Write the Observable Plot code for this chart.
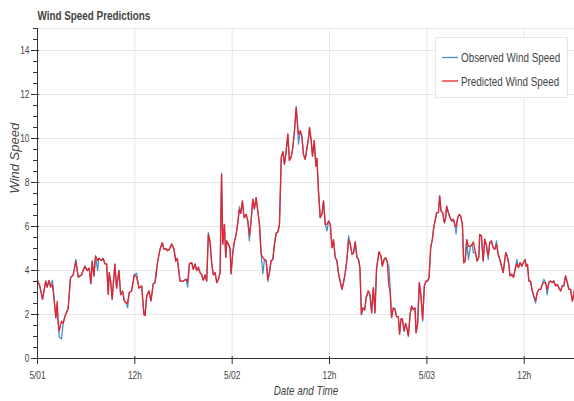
<!DOCTYPE html>
<html>
<head>
<meta charset="utf-8">
<script src="https://cdn.jsdelivr.net/npm/d3@7"></script>
<script src="https://cdn.jsdelivr.net/npm/@observablehq/plot@0.6"></script>
<style>
  html, body { margin: 0; padding: 0; background: #fff; }
  #wrap { position: relative; width: 574px; height: 401px; overflow: hidden; }
  #overlay { position: absolute; left: 0; top: 0; }
</style>
</head>
<body>
<div id="wrap">
  <div id="chart"></div>
  <svg id="overlay" width="574" height="120"></svg>
</div>
<script>
const title = "Wind Speed Predictions";
const xLabel = "Date and Time";
const yLabel = "Wind Speed";
const seriesNames = ["Observed Wind Speed", "Predicted Wind Speed"];
const xTicks = [0, 12, 24, 36, 48, 60];
const xTickLabels = ["5/01", "12h", "5/02", "12h", "5/03", "12h"];
const yTicks = [0, 2, 4, 6, 8, 10, 12, 14];

// hours since 5/01 00:00
const hours = [
0.00,0.28,0.62,1.02,1.19,1.43,1.60,1.85,2.01,2.26,
2.42,2.54,2.67,2.96,3.16,3.37,3.78,4.07,4.40,4.73,
5.01,5.43,5.84,6.12,6.37,6.58,6.74,6.95,7.16,7.41,
7.57,7.90,8.10,8.31,8.52,8.72,8.84,9.05,9.21,9.54,
9.75,10.04,10.25,10.49,10.69,10.99,11.11,11.31,11.60,11.93,
12.22,12.51,12.84,13.12,13.25,13.46,13.74,13.99,14.27,14.48,
14.60,14.81,15.10,15.38,15.59,15.84,16.00,16.25,16.54,16.83,
17.04,17.23,17.57,17.98,18.31,18.52,18.72,19.01,19.21,19.42,
19.63,19.83,20.04,20.25,20.44,20.65,20.86,21.06,21.27,21.48,
21.68,21.89,22.10,22.30,22.51,22.69,22.84,23.04,23.21,23.33,
23.53,23.74,23.86,24.07,24.27,24.48,24.69,24.89,25.06,25.26,
25.47,25.72,25.93,26.12,26.33,26.54,26.74,26.95,27.16,27.36,
27.57,27.78,27.98,28.19,28.40,28.59,28.80,29.01,29.21,29.42,
29.63,29.83,30.05,30.26,30.44,30.65,30.86,31.05,31.27,31.48,
31.68,31.89,32.05,32.17,32.38,32.59,32.79,33.00,33.21,33.41,
33.53,33.74,33.90,34.11,34.32,34.44,34.64,34.85,35.06,35.26,
35.47,35.68,35.88,36.09,36.30,36.49,36.70,36.91,37.11,37.32,
37.53,37.73,37.94,38.15,38.35,38.56,38.77,38.96,39.17,39.38,
39.58,39.75,39.93,40.12,40.33,40.52,40.78,40.99,41.19,41.40,
41.60,41.80,42.10,42.35,42.51,42.72,42.91,43.12,43.31,43.46,
43.65,43.86,44.07,44.27,44.48,44.64,44.81,44.98,45.19,45.38,
45.56,45.72,45.93,46.12,46.33,46.54,46.67,46.86,47.07,47.28,
47.48,47.69,47.90,48.09,48.27,48.47,48.68,48.84,49.01,49.21,
49.42,49.58,49.75,49.95,50.16,50.32,50.44,50.65,50.86,51.06,
51.27,51.48,51.60,51.77,51.98,52.17,52.38,52.54,52.72,52.91,
53.12,53.37,53.58,53.74,53.99,54.20,54.40,54.52,54.73,54.94,
55.14,55.35,55.56,55.75,55.96,56.17,56.37,56.58,56.79,56.99,
57.20,57.41,57.61,57.73,57.91,58.10,58.26,58.47,58.68,58.88,
59.09,59.30,59.49,59.70,59.91,60.11,60.23,60.40,60.57,60.78,
60.99,61.19,61.40,61.60,61.80,62.01,62.22,62.42,62.63,62.84,
63.04,63.25,63.46,63.65,63.86,64.07,64.27,64.48,64.69,64.88,
65.10,65.31,65.51,65.72,65.93,66.12,66.20
];

const observed = [
3.55,3.3,2.69,3.52,3.25,3.55,3.3,3.55,2.84,1.85,
2.3,1.7,0.98,0.89,1.6,1.9,2.27,3.67,3.8,4.5,
3.7,3.8,4.2,4.0,4.1,3.4,4.43,3.75,4.66,4.0,
4.55,4.45,4.55,4.3,4.3,2.92,3.9,3.4,2.7,4.29,
3.2,4.0,2.9,3.07,2.62,2.5,2.3,3.0,3.07,3.8,
3.87,3.2,3.3,2.0,1.95,2.84,3.07,2.62,3.4,3.45,
3.9,4.4,4.96,5.26,4.96,5.0,4.9,4.96,5.2,4.96,
4.43,4.55,3.52,3.52,3.6,3.25,4.3,4.36,4.05,4.3,
4.0,4.15,3.9,3.8,3.55,3.8,3.52,5.72,5.3,4.3,
3.8,3.9,3.45,3.6,3.9,8.42,5.2,6.1,4.6,5.35,
5.2,5.0,3.85,4.8,5.3,5.63,6.17,6.9,6.6,7.16,
6.4,6.55,6.25,5.35,6.25,7.24,6.8,7.31,6.7,6.1,
4.74,3.85,4.5,4.45,3.5,3.9,4.45,4.5,5.2,5.7,
5.75,6.1,9.14,9.4,8.83,9.4,10.2,9.0,9.15,9.6,
10.35,11.45,10.65,9.74,10.35,10.1,9.28,9.05,9.55,10.0,
10.5,9.9,9.2,9.9,8.75,9.1,7.61,6.4,6.55,7.16,
6.1,5.8,6.25,6.1,5.04,5.4,4.6,4.45,3.85,3.5,
3.14,3.45,3.9,4.5,5.57,5.2,4.74,4.8,5.3,4.6,
4.5,4.1,2.0,2.3,2.2,2.76,3.07,2.9,2.08,3.22,
2.08,4.1,4.85,4.65,4.2,4.5,4.58,4.4,4.2,3.3,
1.86,2.3,2.25,1.9,1.9,1.1,1.8,1.8,1.25,1.6,
1.35,1.02,2.0,2.38,2.22,2.3,1.17,1.6,3.45,2.8,
1.7,3.3,3.52,3.52,3.67,5.04,5.42,5.95,6.25,6.63,
6.63,7.39,6.7,6.63,6.17,6.4,6.93,6.63,6.4,6.25,
6.33,6.02,5.67,6.33,6.55,6.48,6.1,4.35,4.43,5.4,
4.5,5.1,5.19,4.8,4.81,4.43,4.6,5.64,5.57,4.43,
5.42,5.12,4.5,5.27,5.34,5.04,4.96,5.34,4.74,4.5,
4.2,3.9,4.5,4.81,4.66,4.28,3.75,3.83,3.68,4.05,
4.5,4.13,4.36,4.2,4.36,4.5,4.2,4.28,3.52,3.52,
3.07,2.84,2.53,2.99,3.14,3.14,3.37,3.6,3.45,2.9,
3.45,3.52,3.45,3.52,3.3,3.37,3.22,3.07,3.3,3.3,
3.75,3.45,3.14,3.14,2.61,2.92,3.14
];

const predicted = [
3.55,3.3,2.69,3.52,3.25,3.55,3.25,3.35,2.84,1.85,
2.6,1.7,1.25,1.7,1.6,1.9,2.27,3.67,3.8,4.43,
3.7,3.8,4.2,4.0,4.1,3.4,4.43,3.75,4.66,4.45,
4.55,4.45,4.55,4.3,4.3,2.92,3.9,3.4,2.7,4.29,
3.2,4.0,2.9,3.07,2.62,2.5,2.55,3.0,3.07,3.8,
3.7,3.2,3.3,2.0,1.95,2.84,3.07,2.62,3.4,3.45,
3.7,4.4,4.96,5.26,4.96,5.0,4.9,4.96,5.2,4.96,
4.43,4.55,3.52,3.52,3.6,3.5,4.3,4.36,4.05,4.3,
4.0,4.15,3.9,3.8,3.55,3.8,3.52,5.64,5.3,4.3,
3.8,3.9,3.45,3.6,3.9,8.37,5.2,6.1,4.6,5.35,
5.2,5.0,3.85,4.8,5.3,5.63,6.17,6.78,6.6,7.16,
6.4,6.55,6.25,5.6,6.25,7.24,6.8,7.31,6.7,6.1,
4.74,4.6,4.5,4.45,3.6,3.9,4.45,4.5,5.2,5.7,
5.75,6.1,9.14,9.4,8.83,9.4,10.2,9.0,9.15,9.6,
10.35,11.4,10.65,10.2,10.35,10.1,9.28,9.05,9.55,10.0,
10.5,9.9,9.2,9.9,8.75,9.1,7.61,6.4,6.55,7.16,
6.1,6.1,6.25,6.1,5.04,5.4,4.6,4.45,3.85,3.5,
3.14,3.45,3.9,4.5,5.4,5.2,4.74,4.8,5.3,4.6,
4.5,4.1,2.0,2.3,2.2,2.76,3.07,2.9,2.08,3.22,
2.08,4.1,4.85,4.65,4.2,4.5,4.58,4.4,3.3,3.07,
1.86,2.3,2.25,1.9,1.9,1.1,1.8,1.8,1.25,1.6,
1.35,1.02,2.0,2.38,2.22,2.3,1.17,1.6,3.45,2.8,
1.78,3.3,3.52,3.52,3.67,5.04,5.42,5.95,6.25,6.63,
6.63,7.39,6.7,6.63,6.17,6.4,6.93,6.63,6.4,6.25,
6.33,6.02,6.0,6.33,6.55,6.48,6.1,4.35,4.43,5.4,
5.1,5.1,5.19,5.3,4.81,4.43,4.6,5.64,5.57,4.43,
5.42,5.12,4.66,5.27,5.34,5.04,4.96,5.19,4.74,4.5,
4.2,3.9,4.5,4.81,4.66,4.28,3.75,3.83,3.68,4.05,
4.3,4.13,4.36,4.2,4.36,4.5,4.2,4.28,3.52,3.52,
3.07,2.84,2.61,2.99,3.14,3.14,3.37,3.45,3.45,3.14,
3.45,3.52,3.45,3.52,3.3,3.37,3.22,3.07,3.3,3.3,
3.75,3.45,3.14,3.14,2.61,2.92,3.14
];

const blue = "#4a8fcb";
const red = "#e8232b";
const axisColor = "#333";
const gridColor = "#e6e6e6";
const textColor = "#444";
const font = '"Liberation Sans", Arial, sans-serif';
const squeeze = 0.76; // horizontal text compression seen in the reference

const rows = hours.map((h, i) => ({h, obs: observed[i], pred: predicted[i]}));
const yMinor = d3.range(0, 15.01, 0.5);

const chart = Plot.plot({
  width: 574,
  height: 401,
  marginLeft: 37,
  marginRight: 0,
  marginTop: 28,
  marginBottom: 43,
  style: {fontFamily: font, fontSize: "11px", color: textColor, background: "#fff"},
  x: {domain: [0, 66.2]},
  y: {domain: [0, 15]},
  marks: [
    Plot.frame({stroke: gridColor}),
    Plot.ruleY(yTicks.slice(1), {stroke: gridColor}),
    Plot.ruleX(xTicks.slice(1), {stroke: gridColor}),
    Plot.lineY(rows, {x: "h", y: "obs", stroke: blue, strokeWidth: 1.3}),
    Plot.lineY(rows, {x: "h", y: "pred", stroke: red, strokeWidth: 1.3}),
    Plot.ruleX([0], {stroke: axisColor}),
    Plot.ruleY([0], {stroke: axisColor}),
    Plot.axisY({ticks: yMinor, tickSize: 4, tickFormat: () => "", label: null, stroke: axisColor}),
    Plot.axisY({ticks: yTicks, tickSize: 8, dx: 2, tickFormat: () => "", label: null, stroke: axisColor}),
    Plot.axisY({ticks: yTicks, tickSize: 0, tickPadding: 8, label: null, fill: textColor}),
    Plot.axisX({ticks: xTicks, tickSize: 8, dy: -2, tickFormat: () => "", label: null, stroke: axisColor}),
    Plot.axisX({ticks: xTicks, tickSize: 0, tickPadding: 13, tickFormat: (d) => xTickLabels[xTicks.indexOf(d)], label: null, fill: textColor}),
    Plot.text([xLabel], {frameAnchor: "bottom", dy: 36, fontStyle: "italic", fontSize: 13, fill: textColor}),
    Plot.text([yLabel], {frameAnchor: "left", dx: -23, rotate: -90, fontStyle: "italic", fontSize: 13, fill: textColor, className: "keep"})
  ]
});
document.getElementById("chart").appendChild(chart);

// overlay: title and legend
const ov = d3.select("#overlay");
ov.append("text").attr("x", 37.5).attr("y", 20).attr("font-family", font)
  .attr("font-weight", "bold").attr("font-size", 13).attr("fill", textColor).text(title);
ov.append("rect").attr("x", 435.5).attr("y", 37.5).attr("width", 132).attr("height", 60)
  .attr("fill", "#fff").attr("fill-opacity", 0.95).attr("stroke", gridColor);
[blue, red].forEach((c, i) => {
  const y = 57.5 + i * 23.5;
  ov.append("line").attr("x1", 442).attr("x2", 458).attr("y1", y).attr("y2", y)
    .attr("stroke", c).attr("stroke-width", 1.3);
  ov.append("text").attr("x", 461).attr("y", y).attr("dy", "0.35em")
    .attr("font-family", font).attr("font-size", 13).attr("fill", textColor)
    .text(seriesNames[i]);
});

// compress horizontal texts like the reference, around each text's anchor point
function squeezeTexts(root) {
  root.querySelectorAll("text").forEach(el => {
    if (el.closest(".keep")) return;
    if (!el.textContent) return;
    const b = el.getBBox();
    const anchor = getComputedStyle(el).textAnchor || el.getAttribute("text-anchor") || "start";
    const ax = anchor === "end" ? b.x + b.width : anchor === "middle" ? b.x + b.width / 2 : b.x;
    const prev = el.getAttribute("transform") || "";
    el.setAttribute("transform", `${prev} translate(${ax},0) scale(${squeeze},1) translate(${-ax},0)`.trim());
  });
}
squeezeTexts(chart);
squeezeTexts(document.getElementById("overlay"));
</script>
</body>
</html>
